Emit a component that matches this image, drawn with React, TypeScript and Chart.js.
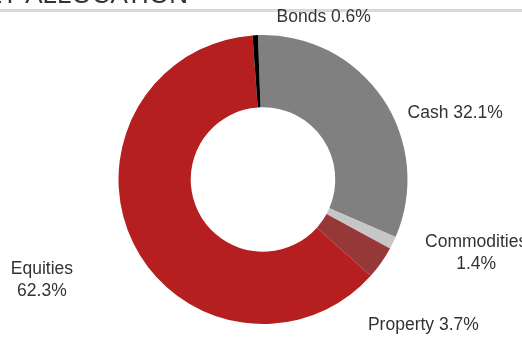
import React, { useEffect, useRef } from "react";
import { Chart, registerables } from "chart.js";

Chart.register(...registerables);

const CATEGORIES = ["Cash", "Commodities", "Property", "Equities", "Bonds"];
const VALUES = [32.1, 1.4, 3.7, 62.3, 0.6];
const LABEL_LINES = [
  ["Cash 32.1%"],
  ["Commodities", "1.4%"],
  ["Property 3.7%"],
  ["Equities", "62.3%"],
  ["Bonds 0.6%"],
];
const COLORS = ["#808080", "#c6c6c6", "#963838", "#b51f1f", "#000000"];
const TITLE = "ASSET ALLOCATION";

// label anchor offsets from chart centre (in units of outer radius)
const LABEL_OFFSETS: [number, number][] = [
  [1.33, -0.46],
  [1.475, 0.51],
  [1.11, 1.01],
  [-1.53, 0.7],
  [0.42, -1.12],
];

const labelPlugin = {
  id: "outerLabels",
  afterDraw(chart: any) {
    const ctx = chart.ctx;
    const meta = chart.getDatasetMeta(0);
    const arc0 = meta.data[0];
    const cx = arc0.x;
    const cy = arc0.y;
    const r = arc0.outerRadius;
    ctx.save();
    // title and rule
    ctx.fillStyle = "#333333";
    ctx.textAlign = "right";
    ctx.textBaseline = "alphabetic";
    ctx.font = "26px 'Liberation Sans', Arial, sans-serif";
    ctx.fillText(TITLE, 188, 3);
    ctx.fillStyle = "#d9d9d9";
    ctx.fillRect(0, 9, chart.width, 3);

    ctx.font = "17.5px 'Liberation Sans', Arial, sans-serif";
    ctx.fillStyle = "#333333";
    ctx.textAlign = "center";
    ctx.textBaseline = "middle";
    LABEL_LINES.forEach((lines, i) => {
      const [ox, oy] = LABEL_OFFSETS[i];
      const x = cx + ox * r;
      const y = cy + oy * r;
      const lh = 22;
      lines.forEach((t, j) => {
        ctx.fillText(t, x, y + (j - (lines.length - 1) / 2) * lh);
      });
    });
    ctx.restore();
  },
};

export default function App() {
  const ref = useRef<HTMLCanvasElement>(null);
  useEffect(() => {
    if (!ref.current) return;
    const chart = new Chart(ref.current, {
      type: "doughnut",
      data: {
        labels: CATEGORIES,
        datasets: [
          {
            data: VALUES,
            backgroundColor: COLORS,
            borderWidth: 0,
          },
        ],
      },
      options: {
        animation: false,
        responsive: false,
        cutout: "50%",
        rotation: -2,
        layout: { padding: { top: 35, bottom: 15, left: 118, right: 114 } },
        plugins: {
          legend: { display: false },
          tooltip: { enabled: false },
          title: { display: false },
        },
      },
      plugins: [labelPlugin],
    });
    return () => chart.destroy();
  }, []);
  return (
    <div style={{ position: "fixed", left: 0, top: 0, width: 522, height: 339, background: "#fff" }}>
      <canvas ref={ref} width={522} height={339} style={{ width: 522, height: 339 }} />
    </div>
  );
}
